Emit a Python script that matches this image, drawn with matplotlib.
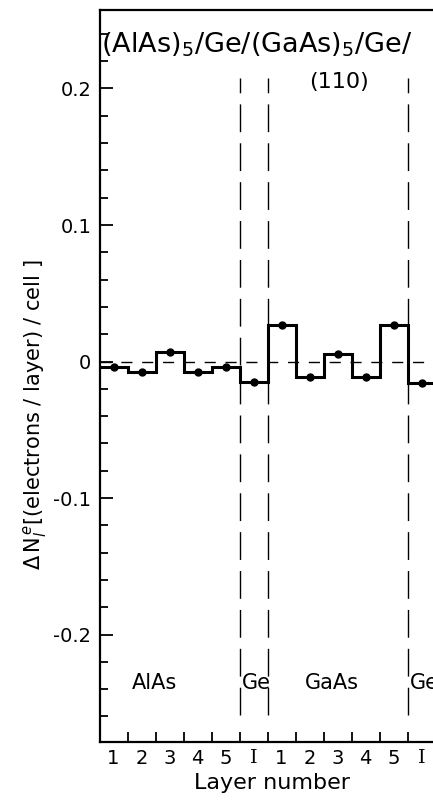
import numpy as np
import matplotlib
matplotlib.use("Agg")
import matplotlib.pyplot as plt
from matplotlib.ticker import FixedLocator, FixedFormatter, MultipleLocator, NullFormatter

# layer charge deviation, one value per layer (AlAs x5, Ge, GaAs x5, Ge)
layer_labels = ["1", "2", "3", "4", "5", "I", "1", "2", "3", "4", "5", "I"]
delta_n = [-0.004, -0.008, 0.007, -0.008, -0.004, -0.015,
           0.027, -0.011, 0.0055, -0.011, 0.027, -0.016]
interfaces = [5, 6, 11]
yticks = [-0.2, -0.1, 0.0, 0.1, 0.2]
ytick_labels = ["-0.2", "-0.1", "0", "0.1", "0.2"]

W, H = 433, 801
fig = plt.figure(figsize=(W / 100, H / 100), dpi=100)
# axes runs past the right edge of the figure (the original is cropped)
ax = fig.add_axes([99.5 / W, 1 - 742 / H, 12 * 28 / W, 732 / H])

n = len(delta_n)
edges = np.arange(n + 1)
centers = np.arange(n) + 0.5
ax.stairs(delta_n, edges, color="black", lw=2.2, baseline=None)
ax.plot(centers, delta_n, "o", color="black", ms=5)

ax.axhline(0, color="black", lw=1.0, dashes=(8, 7))
for xb in interfaces:
    ax.plot([xb, xb], [-0.259, 0.208], color="black", lw=1.0, dashes=(20, 8))

ax.set_xlim(0, 12)
ax.set_ylim(-0.2787, 0.2575)

ax.yaxis.set_major_locator(FixedLocator(yticks))
ax.yaxis.set_major_formatter(FixedFormatter(ytick_labels))
ax.yaxis.set_minor_locator(MultipleLocator(0.02))
ax.xaxis.set_major_locator(FixedLocator(list(range(1, 12))))
ax.xaxis.set_major_formatter(NullFormatter())
ax.xaxis.set_minor_locator(FixedLocator(centers))
ax.xaxis.set_minor_formatter(FixedFormatter(layer_labels))

ax.tick_params(axis="y", which="major", direction="in", length=9, width=1.3,
               labelsize=14, pad=6)
ax.tick_params(axis="y", which="minor", direction="in", length=6, width=1.3)
ax.tick_params(axis="x", which="major", direction="in", length=7, width=1.3)
ax.tick_params(axis="x", which="minor", length=0, labelsize=14, pad=5)
for lab in ax.get_xticklabels(minor=True):
    if lab.get_text() == "I":
        lab.set_family("DejaVu Serif")

for s in ["left", "bottom", "top"]:
    ax.spines[s].set_linewidth(1.6)
ax.spines["right"].set_visible(False)

ax.text(0.05, 0.232, "(AlAs)$_5$/Ge/(GaAs)$_5$/Ge/", fontsize=19.5,
        ha="left", va="center")
ax.text(8.57, 0.205, "(110)", fontsize=16, ha="center", va="center")

ax.text(1.96, -0.2355, "AlAs", fontsize=15, ha="center", va="center")
ax.text(5.08, -0.2355, "Ge", fontsize=15, ha="left", va="center")
ax.text(8.3, -0.2355, "GaAs", fontsize=15, ha="center", va="center")
ax.text(11.08, -0.2355, "Ge", fontsize=15, ha="left", va="center")

fig.text(272 / W, 1 - 783 / H, "Layer number", fontsize=16,
         ha="center", va="center")
fig.text(35 / W, 1 - 415 / H,
         r"$\Delta\,\mathregular{N}_l^{\,e}$[(electrons / layer) / cell ]",
         fontsize=15, rotation=90, ha="center", va="center")

fig.savefig("out.png", dpi=100)
